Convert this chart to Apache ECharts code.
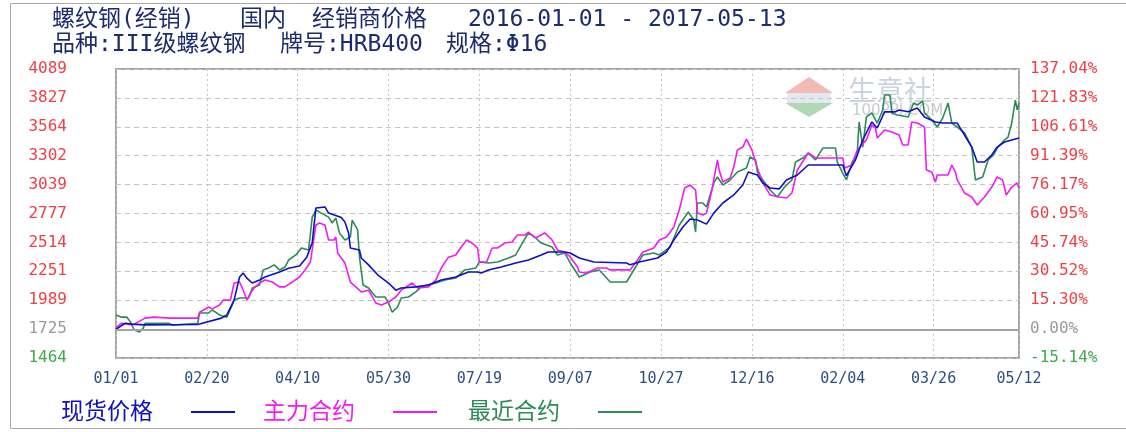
<!DOCTYPE html>
<html><head><meta charset="utf-8">
<script src="https://cdn.jsdelivr.net/npm/echarts@6/dist/echarts.min.js"></script>
<style>html,body{margin:0;padding:0;background:#fff}#c{width:1126px;height:432px}</style>
</head><body><div id="c"></div>
<script>
// ---- data ----
const startDateUTC = Date.UTC(2016, 0, 1);   // day 0 = 2016-01-01
const lastDay = 497;                          // 2017-05-12
const dayStep = 50;
const leftTickLabels = ['1464','1725','1989','2251','2514','2777','3039','3302','3564','3827','4089'];
const rightTickLabels = ['-15.14%','0.00%','15.30%','30.52%','45.74%','60.95%','76.17%','91.39%','106.61%','121.83%','137.04%'];
const baseValue = 1725;
const yMin = 1464, yMax = 4089, yStep = 262.5;
const seriesNames = ['现货价格', '主力合约', '最近合约'];
const titleLine1 = ['螺纹钢(经销)', '国内', '经销商价格', '2016-01-01 - 2017-05-13'];
const titleLine2 = ['品种:III级螺纹钢', '牌号:HRB400', '规格:Φ16'];
const watermarkTexts = ['生意社', '100PPI.COM'];

// [day since 2016-01-01, price]
const spotPrice = [[0,1725],[5,1780],[9,1772],[16,1765],[45,1768],[58,1826],[61,1855],[65,1990],[68,2200],[70,2235],[72,2190],[75,2145],[79,2172],[82,2200],[90,2245],[95,2280],[101,2300],[105,2380],[108,2510],[110,2826],[115,2836],[117,2780],[124,2740],[126,2700],[128,2600],[129,2463],[134,2445],[135,2372],[139,2310],[144,2220],[150,2145],[154,2080],[157,2100],[165,2110],[172,2127],[179,2172],[187,2200],[194,2245],[199,2245],[201,2236],[205,2264],[212,2290],[220,2327],[227,2355],[234,2400],[238,2427],[247,2427],[250,2418],[255,2372],[263,2336],[281,2327],[283,2310],[288,2336],[298,2372],[303,2427],[307,2536],[312,2654],[316,2726],[320,2717],[325,2680],[329,2780],[334,2872],[340,2945],[345,3035],[348,3153],[353,3126],[356,3054],[360,3008],[365,3000],[369,3081],[375,3126],[381,3217],[400,3217],[402,3120],[407,3263],[411,3444],[416,3608],[419,3553],[423,3700],[429,3700],[431,3717],[436,3700],[441,3735],[445,3653],[451,3608],[455,3598],[463,3598],[466,3517],[471,3380],[474,3244],[478,3244],[482,3308],[485,3380],[489,3426],[493,3444],[497,3462]];
const mainContract = [[0,1743],[3,1780],[9,1763],[16,1826],[21,1835],[30,1826],[45,1826],[46,1880],[51,1927],[53,1910],[57,1945],[59,1990],[63,1990],[65,2145],[68,2154],[70,2080],[72,1990],[74,2054],[76,2100],[79,2145],[82,2172],[86,2154],[90,2110],[93,2110],[97,2154],[101,2200],[104,2264],[107,2336],[110,2672],[112,2690],[115,2672],[117,2536],[120,2536],[121,2563],[122,2418],[126,2327],[129,2154],[132,2110],[135,2064],[139,2080],[143,1964],[146,1945],[150,1972],[154,2018],[157,2080],[163,2145],[166,2100],[172,2110],[176,2172],[179,2281],[183,2380],[187,2400],[190,2472],[193,2536],[196,2508],[199,2463],[200,2336],[204,2336],[207,2463],[210,2463],[214,2508],[218,2518],[221,2581],[225,2581],[227,2608],[231,2554],[236,2600],[240,2536],[243,2445],[247,2427],[250,2382],[254,2291],[255,2245],[259,2236],[265,2281],[270,2281],[272,2264],[283,2264],[287,2354],[290,2427],[296,2463],[299,2536],[303,2563],[307,2654],[310,2808],[313,3008],[316,3035],[319,2990],[320,2780],[323,2762],[325,2780],[328,2990],[331,3263],[332,3172],[334,3063],[338,3099],[340,3199],[342,3353],[345,3380],[347,3453],[350,3353],[353,3190],[356,3054],[360,2945],[365,2926],[369,2917],[372,2963],[375,3172],[381,3326],[385,3281],[400,3281],[401,3190],[405,3217],[408,3353],[413,3444],[416,3580],[418,3553],[419,3462],[423,3535],[427,3517],[431,3490],[433,3399],[436,3399],[438,3608],[441,3598],[445,3562],[446,3172],[449,3154],[451,3063],[452,3126],[458,3126],[460,3217],[462,3154],[463,3081],[467,2963],[471,2926],[474,2854],[478,2926],[482,3017],[485,3108],[488,3081],[490,2945],[493,3017],[496,3054],[497,3008]];
const nearContract = [[0,1855],[3,1835],[6,1835],[8,1790],[10,1718],[13,1700],[15,1735],[16,1780],[29,1780],[31,1763],[45,1780],[46,1873],[51,1873],[53,1900],[57,1855],[61,1835],[64,1945],[65,1990],[68,2009],[73,2009],[75,2100],[79,2127],[81,2264],[84,2281],[87,2310],[90,2264],[93,2290],[95,2354],[99,2400],[102,2463],[106,2445],[108,2744],[110,2808],[113,2780],[117,2744],[119,2690],[121,2735],[123,2600],[126,2536],[129,2563],[130,2717],[133,2627],[134,2380],[136,2127],[139,2100],[143,2018],[148,2018],[150,1964],[152,1880],[155,1927],[157,2009],[161,2018],[165,2064],[168,2110],[176,2145],[181,2172],[187,2190],[192,2264],[198,2281],[200,2336],[205,2327],[210,2336],[216,2372],[220,2400],[223,2490],[227,2600],[231,2554],[234,2508],[240,2472],[243,2400],[247,2418],[250,2327],[255,2200],[261,2245],[266,2264],[272,2154],[281,2154],[284,2236],[290,2400],[296,2418],[299,2400],[305,2472],[310,2672],[315,2790],[318,2717],[319,2608],[320,2872],[323,2872],[325,2835],[329,3054],[331,3108],[334,3035],[338,3081],[342,3154],[347,3190],[349,3290],[352,3263],[353,3154],[356,3081],[360,2990],[364,2926],[368,3017],[372,3081],[374,3244],[379,3290],[381,3326],[385,3263],[389,3371],[396,3371],[397,3244],[400,3144],[402,3081],[405,3235],[408,3335],[409,3608],[411,3380],[413,3653],[416,3690],[419,3598],[422,3717],[423,3853],[426,3853],[427,3690],[430,3671],[436,3653],[439,3780],[441,3762],[444,3798],[445,3690],[449,3626],[452,3562],[455,3644],[458,3780],[460,3598],[463,3562],[467,3508],[471,3380],[473,3081],[477,3108],[480,3263],[483,3308],[485,3371],[489,3444],[491,3471],[493,3598],[495,3807],[496,3717],[497,3780]];

// ---- chart ----
const colors = ['#1010c0', '#f01cf0', '#2e8b57'];
const monoCJK = "'DejaVu Sans Mono', 'Noto Sans CJK SC', sans-serif";
const tickIndex = v => Math.round((v - yMin) / yStep);
const tickColor = i => i === 0 ? '#3cab4a' : (i === 1 ? '#9a9a9a' : '#ec4148');
function dayLabel(d) {
  const dt = new Date(startDateUTC + Math.round(d) * 86400000);
  const mm = String(dt.getUTCMonth() + 1).padStart(2, '0');
  const dd = String(dt.getUTCDate()).padStart(2, '0');
  return mm + '/' + dd;
}
const titleColor = '#1c2b6e';
const graphics = [
  {type:'rect', shape:{x:10.5, y:3.5, width:1130, height:425}, style:{fill:'none', stroke:'#a8a8a8', lineWidth:1}, silent:true},
  // watermark logo
  {type:'polygon', shape:{points:[[785,93],[809,77],[833,93]]}, style:{fill:'rgba(232,130,120,0.55)'}, silent:true, z:-1},
  {type:'rect', shape:{x:787, y:93, width:44, height:10}, style:{fill:'rgba(200,210,225,0.5)'}, silent:true, z:-1},
  {type:'polygon', shape:{points:[[785,103],[809,117],[833,103]]}, style:{fill:'rgba(110,185,120,0.55)'}, silent:true, z:-1},
  {type:'text', left:848, top:76, style:{text:watermarkTexts[0], font:"28px 'Noto Sans CJK SC'", fill:'rgba(140,160,190,0.45)'}, silent:true, z:-1},
  {type:'text', left:852, top:104, style:{text:watermarkTexts[1], font:"15px 'DejaVu Sans'", fill:'rgba(150,150,150,0.5)'}, silent:true, z:-1}
];
const t1x = [52, 240, 312, 468];
titleLine1.forEach((s, i) => graphics.push({type:'text', left:t1x[i], top:9, style:{text:s, font:'23px ' + monoCJK, fill:titleColor}}));
const t2x = [52, 280, 446];
titleLine2.forEach((s, i) => graphics.push({type:'text', left:t2x[i], top:34, style:{text:s, font:'23px ' + monoCJK, fill:titleColor}}));
const legX = [61, 263, 468];
seriesNames.forEach((s, i) => {
  graphics.push({type:'text', left:legX[i], top:399, style:{text:s, font:"23px 'Noto Sans CJK SC'", fill:colors[i]}});
  graphics.push({type:'line', shape:{x1:legX[i]+130, y1:412, x2:legX[i]+174, y2:412}, style:{stroke:colors[i], lineWidth:2}});
});

const chart = echarts.init(document.getElementById('c'));
chart.setOption({
  animation: false,
  backgroundColor: '#fff',
  grid: {left:116, right:107, top:69, bottom:74, show:true, borderColor:'#a4a4a4', borderWidth:2, backgroundColor:'transparent'},
  xAxis: {
    type:'value', min:0, max:lastDay, interval:dayStep,
    axisLine:{show:false}, axisTick:{show:false},
    axisLabel:{formatter:dayLabel, color:'#2d4f80', fontFamily:'DejaVu Sans Mono', fontSize:15, margin:14, showMinLabel:true, showMaxLabel:true, hideOverlap:false},
    splitLine:{show:true, lineStyle:{color:'#c4c4c4', type:[2,3], width:1}}
  },
  yAxis: [
    {type:'value', min:yMin, max:yMax, interval:yStep, position:'left',
     axisLine:{show:false}, axisTick:{show:false},
     axisLabel:{formatter:v => leftTickLabels[tickIndex(v)], color:(v, i) => tickColor(tickIndex(v)), fontFamily:'DejaVu Sans Mono', fontSize:16, margin:49},
     splitLine:{show:true, lineStyle:{color:'#c4c4c4', type:[5,4], width:1}}},
    {type:'value', min:yMin, max:yMax, interval:yStep, position:'right',
     axisLine:{show:false}, axisTick:{show:false},
     axisLabel:{formatter:v => rightTickLabels[tickIndex(v)], color:(v, i) => tickColor(tickIndex(v)), fontFamily:'DejaVu Sans Mono', fontSize:16, margin:11},
     splitLine:{show:false}}
  ],
  graphic: graphics,
  series: [
    {type:'line', name:'base', data:[], z:1, silent:true,
     markLine:{symbol:'none', silent:true, label:{show:false}, lineStyle:{color:'#a4a4a4', type:'solid', width:2}, data:[{yAxis:baseValue}]}},
    {type:'line', name:seriesNames[0], data:spotPrice, showSymbol:false, z:4, lineStyle:{color:colors[0], width:1.6}, itemStyle:{color:colors[0]}},
    {type:'line', name:seriesNames[1], data:mainContract, showSymbol:false, z:3, lineStyle:{color:colors[1], width:1.6}, itemStyle:{color:colors[1]}},
    {type:'line', name:seriesNames[2], data:nearContract, showSymbol:false, z:2, lineStyle:{color:colors[2], width:1.6}, itemStyle:{color:colors[2]}}
  ]
});
</script></body></html>
